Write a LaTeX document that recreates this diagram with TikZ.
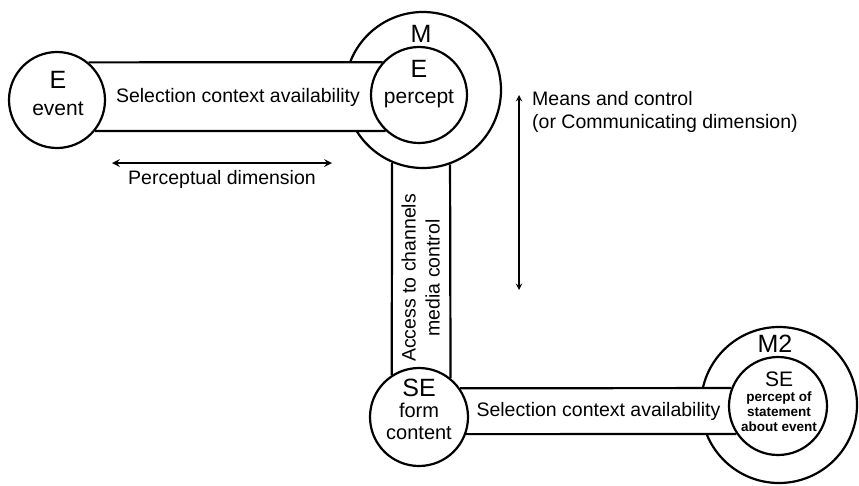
\documentclass[tikz,border=0pt]{standalone}
\usepackage{fontspec}
\setmainfont{Liberation Sans}
\pgfdeclarelayer{background}
\pgfsetlayers{background,main}
\newcommand\bigsz{\fontsize{25}{28}\selectfont}
\tikzstyle{ring}=[draw=black,circle,line width=2.2pt,inner sep=0pt]
\tikzstyle{band}=[draw=black,line width=2.2pt]
\tikzstyle{dimarrow}=[line width=2.4pt,<->,>=stealth]
\tikzstyle{lbl}=[align=center,inner sep=0pt]

\begin{document}
\begin{tikzpicture}[x=1pt,y=-1pt,font=\fontsize{19.5}{23}\selectfont]
	\useasboundingbox (0,0) rectangle (859,485);
	%outer circles
	\begin{pgfonlayer}{background}
	\node[ring,minimum size=156pt] (m) at (423,90) {};
	\node[ring,minimum size=156pt] (m2) at (779,405) {};
	\end{pgfonlayer}
	%inner circles
	\node[ring,minimum size=96pt] (ev) at (57,100) {};
	\node[ring,minimum size=96pt] (pc) at (419,95) {};
	\node[ring,minimum size=98pt] (se) at (419,417) {};
	\node[ring,minimum size=98pt] (st) at (778,406) {};
	%texts in circles
	\node[lbl,font=\fontsize{21}{27}\selectfont] (evtxt) at (58,93) {{\bigsz E}\\event};
	\node[lbl,font=\fontsize{21}{26}\selectfont] (pctxt) at (419,84) {{\bigsz E}\\percept};
	\node[lbl,font=\fontsize{20}{21.5}\selectfont] (setxt) at (419,409) {{\bigsz SE}\\form\\content};
	\node[lbl,font=\bfseries\fontsize{13.5}{15}\selectfont] (sttxt) at (779,402)
	{{\fontsize{21}{24}\mdseries\selectfont SE}\\percept of\\statement\\about event};
	\node[font=\bigsz] (mlab) at (421,34) {M};
	\node[font=\bigsz] (m2lab) at (775,344) {M2};
	%bands
	\begin{pgfonlayer}{background}
	\fill[white] (ev.50) -- (pc.138) -- (pc.227) -- (ev.321) -- cycle;
	\fill[white] (se.35) -- (st.159) -- (st.214) -- (se.340) -- cycle;
	\end{pgfonlayer}
	\draw[band] (ev.50) -- (pc.138);
	\draw[band] (ev.321) -- (pc.227);
	\path (ev) -- (pc) node[midway] (selup) {Selection context availability};
	\draw[band] (m.247) -- (se.123);
	\draw[band] (m.290) -- (se.51);
	\path (m) -- (se) node[pos=0.55,rotate=90,align=center,font=\fontsize{19.5}{24}\selectfont] (acc)
	{Access to channels\\media control};
	\draw[band] (se.35) -- (st.159);
	\draw[band] (se.340) -- (st.214);
	\path (se) -- (st) node[midway] (seldown) {Selection context availability};
	%dimensions
	\coordinate (pl) at (112,163);
	\coordinate (pr) at (332,163);
	\draw[dimarrow] (pl) -- (pr) node[midway,below=3pt] (perc) {Perceptual dimension};
	\coordinate (mtop) at (519,95);
	\coordinate (mbot) at (519,290);
	\draw[dimarrow,line width=1.8pt] (mtop) -- (mbot);
	\node[anchor=north west,align=left,inner sep=0pt] (means) at (532,91)
	{Means and control\\(or Communicating dimension)};
\end{tikzpicture}
\end{document}
